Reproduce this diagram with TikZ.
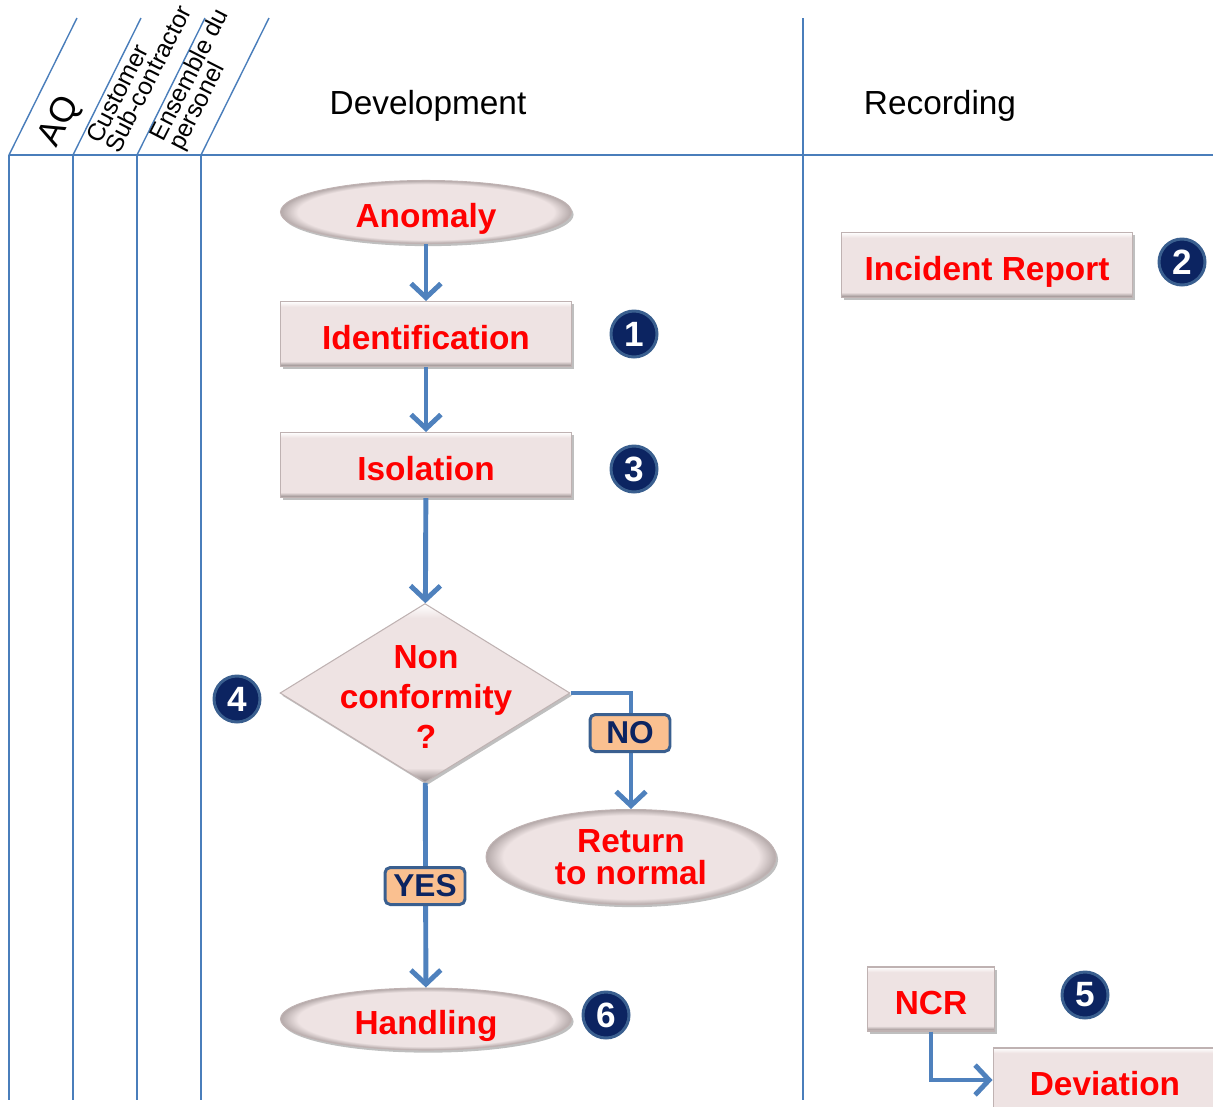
\documentclass[tikz,border=0pt]{standalone}
\usepackage{fontspec}
\setmainfont{Liberation Sans}
\usetikzlibrary{shapes.geometric,arrows.meta,shadows}

\definecolor{laneblue}{HTML}{4A7EBB}
\definecolor{flowblue}{HTML}{4F81BD}
\definecolor{boxfill}{HTML}{EEE3E3}
\definecolor{boxedge}{HTML}{BFB2B2}
\definecolor{bevdark}{HTML}{8E8484}
\definecolor{rimgray}{HTML}{B4A9A9}
\definecolor{bevlight}{HTML}{FFFFFF}
\definecolor{alert}{HTML}{FF0000}
\definecolor{navy}{HTML}{0C2461}
\definecolor{ring}{HTML}{3A5F8F}
\definecolor{tagfill}{HTML}{FAC090}

\pgfdeclareverticalshading{bevel}{100bp}{color(0bp)=(bevdark); color(25bp)=(bevdark);
  color(29bp)=(boxfill); color(71bp)=(boxfill); color(75bp)=(bevlight); color(100bp)=(bevlight)}
\pgfdeclareradialshading{rim}{\pgfpoint{0bp}{0bp}}{color(0bp)=(boxfill); color(22bp)=(boxfill);
  color(25bp)=(rimgray); color(50bp)=(rimgray)}

\begin{document}
\begin{tikzpicture}[x=0.02cm, y=-0.02cm,
  lane/.style={draw=laneblue, line width=0.8pt},
  header/.style={font=\fontsize{19}{22}\selectfont},
  lanehead/.style={rotate=63, align=left, inner sep=0pt, font=\fontsize{14}{12}\selectfont},
  shade/.style={drop shadow={shadow xshift=1.2pt, shadow yshift=-1.5pt, fill=black, opacity=0.25}},
  caps/.style={text height=17.5pt, text depth=0pt},
  process/.style={rectangle, shade, shading=bevel, draw=boxedge, line width=0.6pt,
    minimum width=5.82cm, minimum height=1.3cm, inner sep=0pt, caps,
    text=alert, font=\fontsize{19}{22}\selectfont\bfseries},
  terminal/.style={ellipse, shade, shading=rim, draw=boxedge, line width=0.6pt,
    minimum width=5.82cm, minimum height=1.26cm, inner sep=0pt, align=center, caps,
    text=alert, font=\fontsize{19}{18}\selectfont\bfseries},
  decision/.style={diamond, shade, shading=bevel, draw=boxedge, line width=0.6pt,
    minimum width=5.8cm, minimum height=3.58cm, inner sep=0pt},
  marker/.style={circle, fill=navy, draw=ring, line width=1.7pt, minimum size=0.92cm,
    inner sep=0pt, text=white, font=\fontsize{20}{22}\selectfont\bfseries},
  tag/.style={rectangle, rounded corners=3pt, fill=tagfill, draw=ring, line width=1.7pt,
    minimum width=1.6cm, minimum height=0.74cm, inner sep=0pt,
    text=navy, font=\fontsize{18}{20}\selectfont\bfseries},
  flow/.style={draw=flowblue, line width=2.8pt, -{Straight Barb[length=8pt,width=17pt]}}]

\useasboundingbox (0,0) rectangle (1213,1106);
\clip (0,0) rectangle (1213,1106);

% Swimlanes
\draw[lane] (9,155) -- (1213,155);
\foreach \x in {9,73,137,201} {
  \draw[lane] (\x,155) -- (\x,1100);
  \draw[lane] (\x,155) -- ++(68,-137);
}
\draw[lane] (803,18) -- (803,1100);

\node[lanehead, font=\fontsize{20}{22}\selectfont] (aq) at (60,122) {AQ};
\node[lanehead] (cust) at (139,74) {Customer\\Sub-contractor};
\node[lanehead] (staff) at (200,80) {Ensemble du\\personel};
\node[header] (devhead) at (428,106) {Development};
\node[header] (rechead) at (940,106) {Recording};

% Development lane
\node[terminal] (anomaly) at (426,212) {Anomaly};
\node[process] (ident) at (426,334) {Identification};
\node[process] (isol) at (426,465) {Isolation};
\node[decision] (nonconf) at (425,693) {};
\node[align=center, text=alert, font=\fontsize{19}{22.7}\selectfont\bfseries] (nctext) at (426,697) {Non\\conformity\\?};
\node[terminal, minimum height=1.9cm, minimum width=5.8cm, text height=, text depth=] (back) at (631,857) {Return\\to normal};
\node[terminal, minimum height=1.24cm] (handling) at (426,1019) {Handling};

% Recording lane
\node[process] (report) at (987,265) {Incident Report};
\node[process, minimum width=2.54cm, minimum height=1.28cm] (ncr) at (931,999) {NCR};
\node[process, minimum width=4.48cm, minimum height=1.28cm] (deviation) at (1105,1080) {Deviation};

% Flow
\draw[flow] (anomaly) -- (ident);
\draw[flow] (ident) -- (isol);
\draw[flow] (isol) -- (nonconf);
\draw[flow] (nonconf.east) -| (back.north);
\draw[flow] (nonconf) -- (handling);
\draw[flow] (ncr.south) |- (deviation.west);
\node[tag] (no) at (630,733) {NO};
\node[tag] (yes) at (425,886) {YES};

% Step numbers
\node[marker] (m1) at (634,334) {1};
\node[marker] (m2) at (1182,262) {2};
\node[marker] (m3) at (634,469) {3};
\node[marker] (m4) at (237,699) {4};
\node[marker] (m5) at (1085,995) {5};
\node[marker] (m6) at (606,1015) {6};

\end{tikzpicture}
\end{document}
